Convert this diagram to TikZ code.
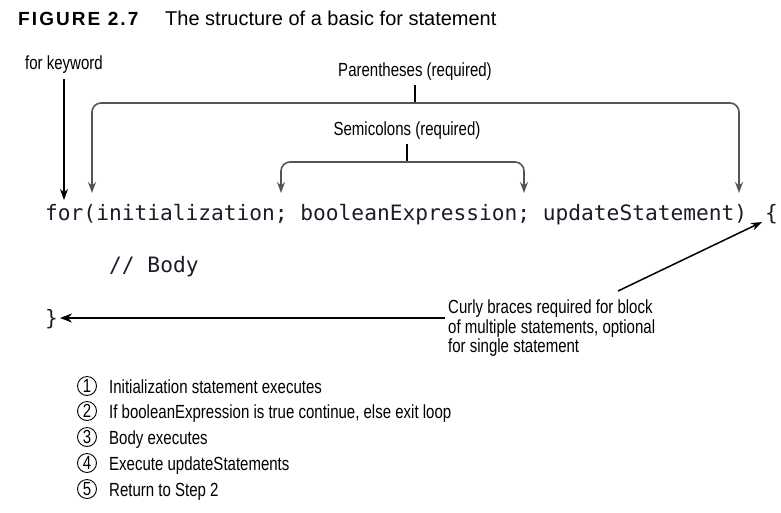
\documentclass[tikz,border=0pt]{standalone}
\usepackage{fontspec}
\setmainfont{Liberation Sans}
\newfontfamily\cond[FakeStretch=0.79]{Liberation Sans}
\newfontfamily\codefont{DejaVu Sans Mono}
\newfontfamily\titlefont[LetterSpace=11]{Liberation Sans}
\usetikzlibrary{arrows.meta}
\definecolor{codecol}{HTML}{1B1B2A}
\definecolor{brk}{HTML}{555555}
\begin{document}
\begin{tikzpicture}[x=1pt,y=-1pt,
  lbl/.style={inner sep=0pt,font=\cond\fontsize{19}{19.5}\selectfont,text=black},
  code/.style={inner sep=0pt,font=\codefont\fontsize{21.2}{25}\selectfont,text=codecol},
  thickarr/.style={line width=2pt,-{Stealth[length=11pt,width=8pt]}},
  brkarr/.style={line width=1.6pt,draw=brk,rounded corners=9pt,-{Stealth[length=11pt,width=8pt]}},
  stub/.style={line width=2pt},
  stepnum/.style={circle,draw,line width=0.9pt,minimum size=19pt,inner sep=0pt,font=\cond\fontsize{19}{19}\selectfont},
  steptxt/.style={anchor=base west,inner sep=0pt,font=\cond\fontsize{19}{19}\selectfont}]
\useasboundingbox (0,0) rectangle (781,512);
% title
\node[anchor=base west,inner sep=0pt,font=\titlefont\bfseries\fontsize{19}{22}\selectfont] (fig) at (18,25) {FIGURE 2.7};
\node[anchor=base west,inner sep=0pt,font=\fontsize{20}{22}\selectfont] (ttl) at (165,25) {The structure of a basic for statement};
% code
\node[code,anchor=base west] (code) at (45,220) {for(initialization; booleanExpression; updateStatement)};
\node[code,anchor=base west] (ob) at (765,220) {\{};
\node[code,anchor=base west] (body) at (109,272) {//~Body};
\node[code,anchor=base west] (cb) at (45,325) {\}};
% labels
\node[lbl] (kw) at (64,65) {for keyword};
\node[lbl] (par) at (415,72) {Parentheses (required)};
\node[lbl] (semi) at (407,131) {Semicolons (required)};
\node[lbl,anchor=north west,align=left] (curly) at (448,300) {Curly braces required for block\\of multiple statements, optional\\for single statement};
% targets
\coordinate (kwT) at (64,200);
\coordinate (parJ) at (415,103);
\coordinate (parL) at (92,193);
\coordinate (parR) at (739,193);
\coordinate (semJ) at (407,162);
\coordinate (semL) at (281,193);
\coordinate (semR) at (524,193);
\coordinate (curS) at (618,291);
\coordinate (curT) at (762,222);
\coordinate (cbS) at (445,318);
\coordinate (cbT) at (60,318);
% connectors
\draw[thickarr] (kw.south) ++(0,5) -- (kwT);
\draw[stub] (par.south) ++(0,4) -- (parJ);
\draw[brkarr] (parJ) -| (parL);
\draw[brkarr] (parJ) -| (parR);
\draw[stub] (semi.south) ++(0,4) -- (semJ);
\draw[brkarr] (semJ) -| (semL);
\draw[brkarr] (semJ) -| (semR);
\draw[line width=1.5pt,-{Stealth[length=11pt,width=8pt]}] (curS) -- (curT);
\draw[line width=2.5pt,-{Stealth[length=12pt,width=9pt]}] (cbS) -- (cbT);
% steps
\node[stepnum] (n1) at (87,386) {1};
\node[stepnum] (n2) at (87,411) {2};
\node[stepnum] (n3) at (87,437) {3};
\node[stepnum] (n4) at (87,463) {4};
\node[stepnum] (n5) at (87,489) {5};
\node[steptxt] (t1) at (109,393) {Initialization statement executes};
\node[steptxt] (t2) at (109,418) {If booleanExpression is true continue, else exit loop};
\node[steptxt] (t3) at (109,444) {Body executes};
\node[steptxt] (t4) at (109,470) {Execute updateStatements};
\node[steptxt] (t5) at (109,496) {Return to Step 2};
\end{tikzpicture}
\end{document}
